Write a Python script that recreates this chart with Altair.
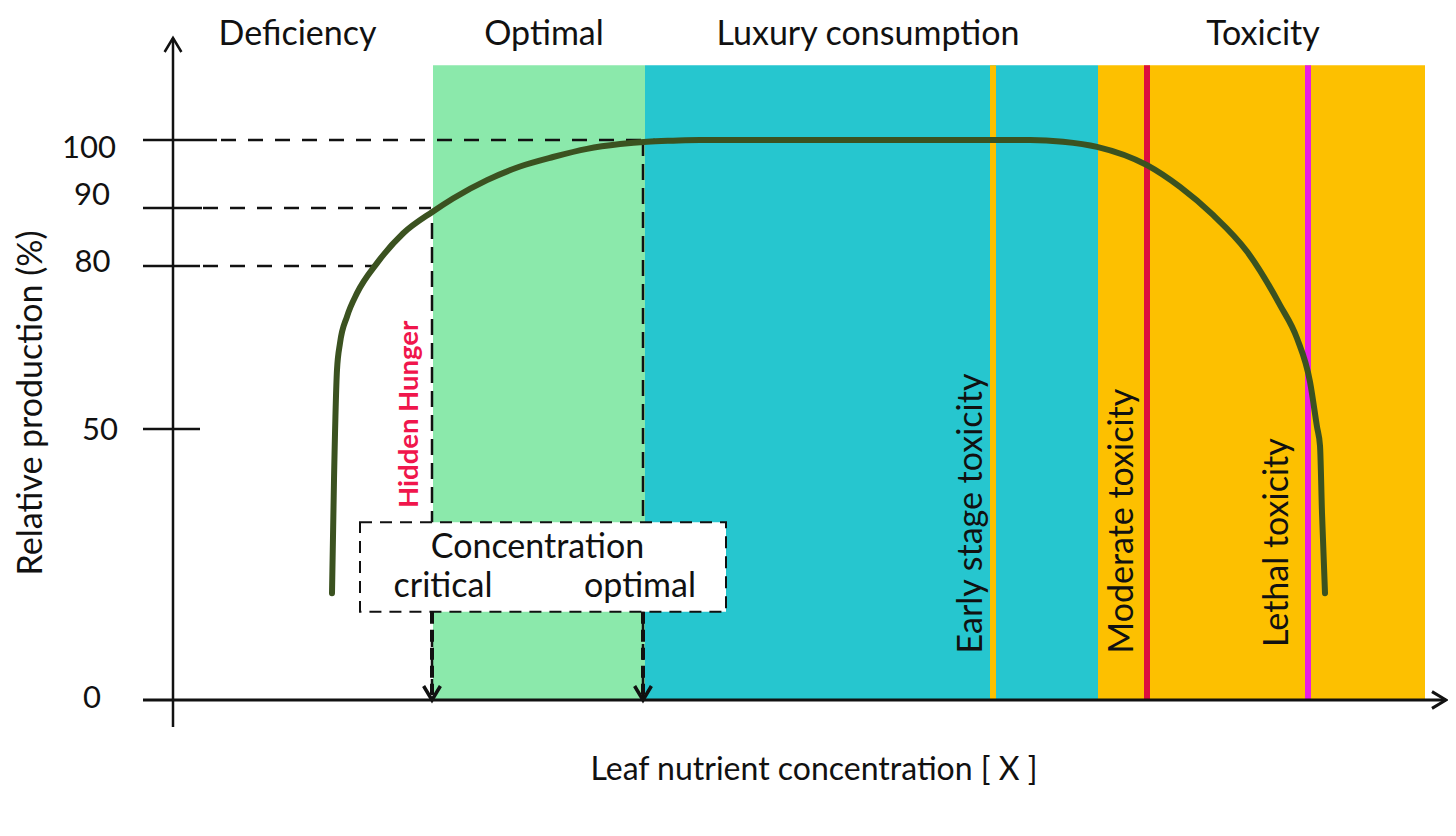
import altair as alt
import pandas as pd

# ---------------- data ----------------
# concentration axis in arbitrary units, production in %
zone_names = ["Optimal", "Luxury consumption", "Toxicity"]
zone_start = [26.0, 47.2, 92.5]
zone_end = [47.2, 92.5, 125.2]
zone_top = 111.0

threshold_names = ["Early stage toxicity", "Moderate toxicity", "Lethal toxicity"]
threshold_x = [82.0, 97.4, 113.5]

color_domain = zone_names + threshold_names
color_range = ["#8BE9AB", "#26C6CF", "#FDC000", "#FDC000", "#DC0F3F", "#E81EE6"]

curve_x = [15.9, 16.1, 16.4, 16.7, 17.4, 18.4, 20.4, 23.0, 26.0, 28.0, 31.4, 34.7,
           38.0, 41.4, 44.7, 47.4, 50.0, 52.7, 85.7, 89.0, 92.4, 97.4, 100.7,
           104.0, 107.4, 110.7, 112.4, 113.7, 114.4, 114.7, 114.9, 115.2]
curve_y = [19.7, 40.6, 60.9, 65.8, 70.7, 75.0, 80.5, 85.6, 89.4, 91.4, 94.1, 96.1,
           97.5, 98.7, 99.4, 99.75, 99.9, 100.0, 100.0, 99.75, 99.0, 96.3, 93.1,
           88.8, 82.5, 72.8, 66.7, 58.7, 50.4, 46.9, 34.5, 19.7]

tick_values = [100, 90, 80, 50]
tick_end = [4.4, 2.9, 2.7, 2.7]
tick_labels = ["100", "90", "80", "50", "0"]
tick_label_x = [-8.4, -8.1, -8.05, -7.3, -8.1]
tick_label_y = [97.3, 90.44, 78.95, 47.97, -1.53]

guide_levels = [100, 90, 80]
guide_start = [4.8, 3.0, 3.0]
guide_end = [48.2, 25.8, 20.0]

conc_names = ["critical", "optimal"]
conc_x = [25.9, 47.0]
conc_top = [87.4, 100.0]
conc_label_x = [27.0, 46.7]

box_x = [18.7, 55.3]
box_y = [16.3, 32.8]

section_titles = ["Deficiency", "Optimal", "Luxury consumption", "Toxicity"]
section_x = [12.45, 37.1, 69.5, 109.0]

tox_label_x = [80.9, 96.0, 111.5]
tox_label_y = [8.6, 8.6, 9.8]

FONT = "Lato"
INK = "#111111"

# ---------------- scales ----------------
xs = alt.Scale(domain=[-16.5, 127.5], nice=False, zero=False)
ys = alt.Scale(domain=[-25, 0, 50, 80, 90, 100, 120],
               range=[827.5, 692, 421, 258, 200, 132, -4],
               nice=False, zero=False)
cs = alt.Scale(domain=color_domain, range=color_range)


def X(f):
    return alt.X(f, type="quantitative", scale=xs, axis=None)


def Y(f):
    return alt.Y(f, type="quantitative", scale=ys, axis=None)


# ---------------- layers ----------------
zones = pd.DataFrame({"name": zone_names, "x": zone_start, "x2": zone_end,
                      "y": [0] * 3, "y2": [zone_top] * 3})
bands = alt.Chart(zones).mark_rect().encode(
    x=X("x"), x2="x2", y=Y("y"), y2="y2",
    color=alt.Color("name:N", scale=cs, legend=None))

thr = pd.DataFrame({"name": threshold_names, "x": threshold_x,
                    "y": [0] * 3, "y2": [zone_top] * 3})
thr_rules = alt.Chart(thr).mark_rule(strokeWidth=6).encode(
    x=X("x"), y=Y("y"), y2="y2",
    color=alt.Color("name:N", scale=cs, legend=None))

guides = pd.DataFrame({"y": guide_levels, "x": guide_start, "x2": guide_end})
guide_rules = alt.Chart(guides).mark_rule(
    strokeWidth=2.5, strokeDash=[15, 12], color=INK).encode(
    x=X("x"), x2="x2", y=Y("y"))

conc = pd.DataFrame({"name": conc_names, "x": conc_x, "y": conc_top,
                     "y2": [0] * 2, "yb": [box_y[0]] * 2, "yt": [1.0] * 2})
conc_thin = alt.Chart(conc).mark_rule(
    strokeWidth=2.5, strokeDash=[16, 8], color=INK).encode(
    x=X("x"), y=Y("y"), y2="y2")
conc_thick = alt.Chart(conc).mark_rule(
    strokeWidth=4, strokeDash=[12, 6], color=INK).encode(
    x=X("x"), y=Y("yb"), y2="yt")

box = alt.Chart(pd.DataFrame({"x": [box_x[0]], "x2": [box_x[1]],
                              "y": [box_y[0]], "y2": [box_y[1]]})).mark_rect(
    fill="white", stroke=INK, strokeWidth=2, strokeDash=[12, 8]).encode(
    x=X("x"), x2="x2", y=Y("y"), y2="y2")

box_head = alt.Chart(pd.DataFrame({"t": ["Concentration"], "x": [36.45], "y": [26.2]})).mark_text(
    font=FONT, fontSize=34, color=INK, baseline="alphabetic").encode(
    x=X("x"), y=Y("y"), text="t:N")
box_sub = alt.Chart(pd.DataFrame({"t": conc_names, "x": conc_label_x, "y": [19.06] * 2})).mark_text(
    font=FONT, fontSize=34, color=INK, baseline="alphabetic").encode(
    x=X("x"), y=Y("y"), text="t:N")

curve = alt.Chart(pd.DataFrame({"i": range(len(curve_x)), "x": curve_x, "y": curve_y})).mark_line(
    color="#3B5220", strokeWidth=6, interpolate="monotone", strokeCap="round").encode(
    x=X("x"), y=Y("y"), order="i:Q")

# axes
axis_y = alt.Chart(pd.DataFrame({"x": [0.0], "y": [-5.0], "y2": [115.0]})).mark_rule(
    strokeWidth=2.5, color=INK).encode(x=X("x"), y=Y("y"), y2="y2")
axis_x = alt.Chart(pd.DataFrame({"x": [-3.0], "x2": [127.3], "y": [0.0]})).mark_rule(
    strokeWidth=3, color=INK).encode(x=X("x"), x2="x2", y=Y("y"))

ticks = alt.Chart(pd.DataFrame({"y": tick_values, "x": [-3.0] * 4, "x2": tick_end})).mark_rule(
    strokeWidth=2.5, color=INK).encode(x=X("x"), x2="x2", y=Y("y"))

chev = "M -1 -0.6 L 0 0 L -1 0.6"
arrow_right = alt.Chart(pd.DataFrame({"x": [127.3], "y": [0.0]})).mark_point(
    shape=chev, size=784, filled=False, strokeWidth=3, color=INK, opacity=1).encode(
    x=X("x"), y=Y("y"))
arrow_up = alt.Chart(pd.DataFrame({"x": [0.0], "y": [115.0]})).mark_point(
    shape=chev, size=784, filled=False, strokeWidth=2.5, color=INK, opacity=1, angle=270).encode(
    x=X("x"), y=Y("y"))
arrow_down = alt.Chart(pd.DataFrame({"x": conc_x, "y": [0.0] * 2})).mark_point(
    shape=chev, size=784, filled=False, strokeWidth=3.5, color=INK, opacity=1, angle=90).encode(
    x=X("x"), y=Y("y"))

tick_text = alt.Chart(pd.DataFrame({"t": tick_labels, "x": tick_label_x, "y": tick_label_y})).mark_text(
    font=FONT, fontSize=31, color=INK, baseline="alphabetic").encode(
    x=X("x"), y=Y("y"), text="t:N")

sections = alt.Chart(pd.DataFrame({"t": section_titles, "x": section_x, "y": [114.0] * 4})).mark_text(
    font=FONT, fontSize=34, color=INK, baseline="alphabetic").encode(
    x=X("x"), y=Y("y"), text="t:N")

y_title = alt.Chart(pd.DataFrame({"t": ["Relative production (%)"], "x": [-13.1], "y": [54.8]})).mark_text(
    font=FONT, fontSize=34, color=INK, baseline="alphabetic", angle=270).encode(
    x=X("x"), y=Y("y"), text="t:N")
x_title = alt.Chart(pd.DataFrame({"t": ["Leaf nutrient concentration [ X ]"], "x": [64.1], "y": [-14.76]})).mark_text(
    font=FONT, fontSize=32, color=INK, baseline="alphabetic").encode(
    x=X("x"), y=Y("y"), text="t:N")

hidden = alt.Chart(pd.DataFrame({"t": ["Hidden Hunger"], "x": [24.5], "y": [52.7]})).mark_text(
    font=FONT, fontSize=27.5, fontWeight="bold", color="#F0164C", baseline="alphabetic", angle=270).encode(
    x=X("x"), y=Y("y"), text="t:N")

tox_text = alt.Chart(pd.DataFrame({"t": threshold_names, "x": tox_label_x, "y": tox_label_y})).mark_text(
    font=FONT, fontSize=34, color=INK, baseline="alphabetic", align="left", angle=270).encode(
    x=X("x"), y=Y("y"), text="t:N")

chart = alt.layer(
    bands, thr_rules, guide_rules, conc_thin, box, box_head, box_sub, conc_thick,
    curve, axis_y, axis_x, ticks, arrow_right, arrow_up, arrow_down,
    tick_text, sections, y_title, x_title, hidden, tox_text
).properties(
    width=1440, height=812, padding=0, autosize="none", background="white"
).configure_view(stroke=None)

chart.save("out.html", embed_options={"renderer": "svg", "actions": False})
